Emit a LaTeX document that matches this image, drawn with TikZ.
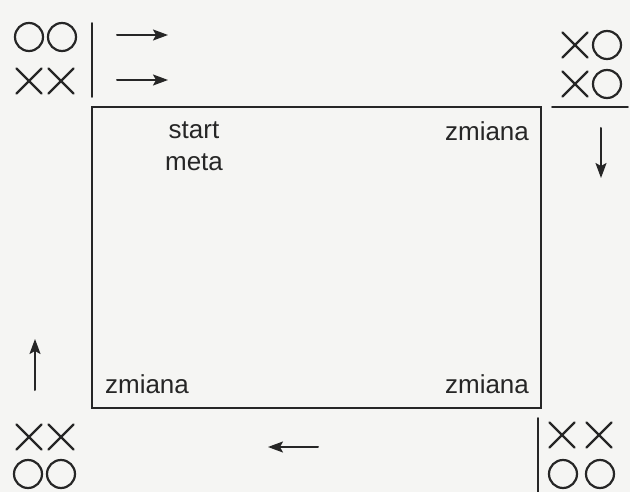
\documentclass[tikz,border=0pt]{standalone}
\usepackage{fontspec}
\setmainfont{Liberation Sans}
\usetikzlibrary{arrows.meta,shapes.misc}
\definecolor{ink}{HTML}{262626}
\definecolor{paper}{HTML}{F5F5F3}
\begin{document}
\begin{tikzpicture}[x=1pt,y=-1pt,
  line cap=round,
  ring/.style={draw=ink,line width=2.2pt,circle,minimum size=28pt,inner sep=0pt},
  cross/.style={draw=ink,line width=2.2pt,cross out,minimum size=23pt,inner sep=0pt},
  field/.style={draw=ink,line width=2pt},
  rule/.style={draw=ink,line width=1.6pt},
  move/.style={draw=ink,line width=2pt,-{Stealth[length=15pt,width=11pt,inset=3pt]}},
  label/.style={text=ink,font=\fontsize{26}{30}\selectfont,inner sep=0pt,align=center}]
\fill[paper] (0,0) rectangle (630,492);
\useasboundingbox (0,0) rectangle (630,492);

% playing field
\draw[field] (92,107) rectangle (541,408);
\node[label] (startmeta) at (194,146) {start\\[2pt]meta};
\node[label] (zTR) at (487,131) {zmiana};
\node[label] (zBL) at (147,384) {zmiana};
\node[label] (zBR) at (487,384) {zmiana};

% team in the top-left corner
\node[ring] (a1) at (29,37) {};
\node[ring] (a2) at (62,37) {};
\node[cross] (a3) at (29,81) {};
\node[cross] (a4) at (61,81) {};
\coordinate (aT) at (92,23);
\coordinate (aB) at (92,97);
\draw[rule] (aT) -- (aB);
\coordinate (r1s) at (117,35); \coordinate (r1e) at (168,35);
\coordinate (r2s) at (117,80); \coordinate (r2e) at (168,80);
\draw[move] (r1s) -- (r1e);
\draw[move] (r2s) -- (r2e);

% team in the top-right corner
\node[cross] (b1) at (575,45) {};
\node[ring] (b2) at (607,45) {};
\node[cross] (b3) at (575,84) {};
\node[ring] (b4) at (607,84) {};
\coordinate (bL) at (552,107);
\coordinate (bR) at (628,107);
\draw[rule] (bL) -- (bR);
\coordinate (dS) at (601,128); \coordinate (dE) at (601,178);
\draw[move] (dS) -- (dE);

% team in the bottom-left corner
\node[cross] (c1) at (29,437) {};
\node[cross] (c2) at (61,437) {};
\node[ring] (c3) at (28,474) {};
\node[ring] (c4) at (61,474) {};
\coordinate (uS) at (35,390); \coordinate (uE) at (35,339);
\draw[move] (uS) -- (uE);

% team in the bottom-right corner
\node[cross] (d1) at (562,435) {};
\node[cross] (d2) at (599,435) {};
\node[ring] (d3) at (563,474) {};
\node[ring] (d4) at (600,474) {};
\coordinate (dT) at (538,418);
\coordinate (dB) at (538,492);
\draw[rule] (dT) -- (dB);
\coordinate (lS) at (318,447); \coordinate (lE) at (268,447);
\draw[move] (lS) -- (lE);
\end{tikzpicture}
\end{document}
